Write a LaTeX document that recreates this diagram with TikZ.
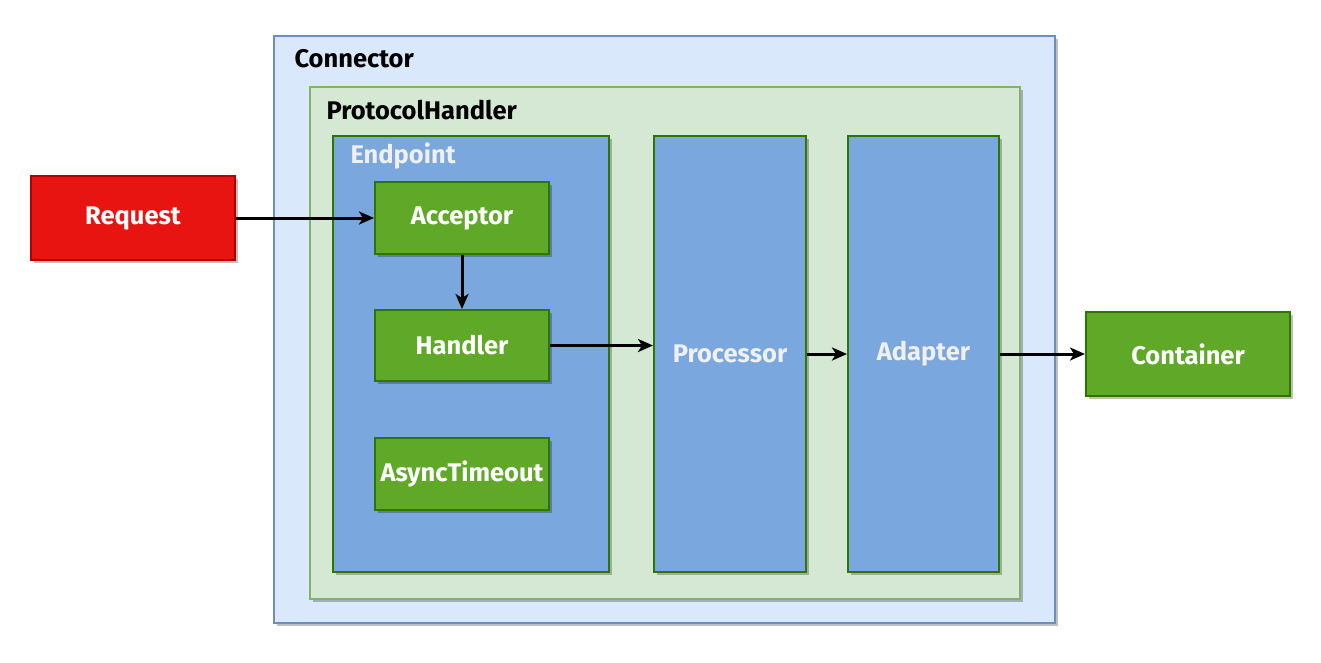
\documentclass[tikz,border=0pt]{standalone}
\usepackage{fontspec}
\setmainfont{Fira Sans}
\usetikzlibrary{shadows,arrows.meta}
\definecolor{conFill}{HTML}{DAE8FC}
\definecolor{conDraw}{HTML}{6C8EBF}
\definecolor{phFill}{HTML}{D5E8D4}
\definecolor{phDraw}{HTML}{82B366}
\definecolor{blueFill}{HTML}{7AA7DD}
\definecolor{greenFill}{HTML}{60A827}
\definecolor{greenDraw}{HTML}{2D7600}
\definecolor{redFill}{HTML}{E81412}
\definecolor{redDraw}{HTML}{B20000}
\definecolor{lightText}{HTML}{F0F0F0}
\tikzset{
  x=1pt,y=-1pt,
  bigfont/.style={font=\bfseries\fontsize{25.5}{30}\selectfont},
  shad/.style={drop shadow={shadow xshift=3pt,shadow yshift=-3pt,fill=black,opacity=0.25}},
  box/.style={shad,line width=2pt,anchor=north west,inner sep=0pt},
  greenbox/.style={box,fill=greenFill,draw=greenDraw,text=white,bigfont},
  bluebox/.style={box,fill=blueFill,draw=greenDraw,text=lightText,bigfont},
  title/.style={anchor=base west,bigfont},
  arr/.style={line width=3pt,-{Stealth[length=15pt,width=13pt,inset=4pt]}}
}
\begin{document}
\begin{tikzpicture}
\useasboundingbox[fill=white] (0,0) rectangle (1321,662);
% containers
\node[box,fill=conFill,draw=conDraw,minimum width=781pt,minimum height=587pt] (conn) at (273,35) {};
\node[title] (connT) at (291,67) {Connector};
\node[box,fill=phFill,draw=phDraw,minimum width=710pt,minimum height=512pt] (ph) at (309,86) {};
\node[title] (phT) at (323,119) {ProtocolHandler};
\node[bluebox,minimum width=276pt,minimum height=436pt] (ep) at (332,135) {};
\node[title,text=lightText] (epT) at (347,163) {Endpoint};
\node[bluebox,minimum width=152pt,minimum height=436pt] (proc) at (653,135) {Processor};
\node[bluebox,minimum width=151pt,minimum height=436pt] (adap) at (847,135) {Adapter};
% inner green boxes
\node[greenbox,minimum width=174pt,minimum height=72pt] (acc) at (374,181) {Acceptor};
\node[greenbox,minimum width=174pt,minimum height=71pt] (hand) at (374,309) {Handler};
\node[greenbox,minimum width=174pt,minimum height=72pt] (async) at (374,437) {AsyncTimeout};
% outside
\node[box,fill=redFill,draw=redDraw,text=white,bigfont,minimum width=204pt,minimum height=84pt] (req) at (30,175) {Request};
\node[greenbox,minimum width=204pt,minimum height=84pt] (cont) at (1085,311) {Container};
% arrows
\draw[arr] (req.east) -- (acc.west);
\draw[arr] (acc.south) -- (hand.north);
\draw[arr] (hand.east) -- (hand.east -| proc.west);
\draw[arr] (proc.east) -- (adap.west);
\draw[arr] (adap.east) -- (cont.west);
\end{tikzpicture}
\end{document}
